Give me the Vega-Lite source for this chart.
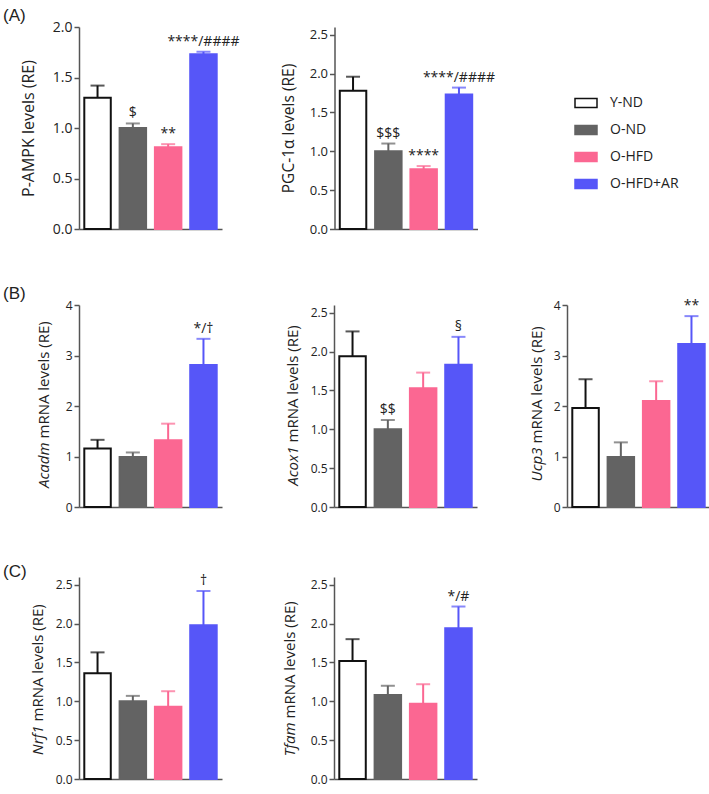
{
  "$schema": "https://vega.github.io/schema/vega-lite/v6.json",
  "padding": {"left": 3, "top": 7, "right": 3, "bottom": 5},
  "spacing": 49,
  "config": {
    "view": {"stroke": null},
    "font": "Open Sans",
    "axis": {"domainColor": "#555", "domainWidth": 1.5, "tickColor": "#555", "tickWidth": 1.5, "tickSize": 5, "labelColor": "#222", "titleColor": "#222", "grid": false, "labelFont": "Open Sans", "titleFont": "Open Sans", "titleFontWeight": "normal", "labelPadding": 2, "titleBaseline": "middle"},
    "title": {"font": "Liberation Sans", "fontWeight": "normal", "color": "#222", "fontSize": 17, "anchor": "start", "frame": "group", "baseline": "alphabetic", "offset": 1}
  },
  "datasets": {
    "d": [
      {"panel": "A1", "group": "Y-ND", "mean": 1.30, "upper": 1.42, "label": ""},
      {"panel": "A1", "group": "O-ND", "mean": 1.00, "upper": 1.045, "label": "$"},
      {"panel": "A1", "group": "O-HFD", "mean": 0.81, "upper": 0.84, "label": "**"},
      {"panel": "A1", "group": "O-HFD+AR", "mean": 1.73, "upper": 1.755, "label": "****/####"},
      {"panel": "A2", "group": "Y-ND", "mean": 1.78, "upper": 1.96, "label": ""},
      {"panel": "A2", "group": "O-ND", "mean": 1.00, "upper": 1.10, "label": "$$$"},
      {"panel": "A2", "group": "O-HFD", "mean": 0.77, "upper": 0.81, "label": "****"},
      {"panel": "A2", "group": "O-HFD+AR", "mean": 1.73, "upper": 1.82, "label": "****/####"},
      {"panel": "B1", "group": "Y-ND", "mean": 1.16, "upper": 1.33, "label": ""},
      {"panel": "B1", "group": "O-ND", "mean": 0.99, "upper": 1.08, "label": ""},
      {"panel": "B1", "group": "O-HFD", "mean": 1.32, "upper": 1.65, "label": ""},
      {"panel": "B1", "group": "O-HFD+AR", "mean": 2.81, "upper": 3.33, "label": "*/†"},
      {"panel": "B2", "group": "Y-ND", "mean": 1.94, "upper": 2.26, "label": ""},
      {"panel": "B2", "group": "O-ND", "mean": 1.00, "upper": 1.12, "label": "$$"},
      {"panel": "B2", "group": "O-HFD", "mean": 1.53, "upper": 1.73, "label": ""},
      {"panel": "B2", "group": "O-HFD+AR", "mean": 1.83, "upper": 2.19, "label": "§"},
      {"panel": "B3", "group": "Y-ND", "mean": 1.96, "upper": 2.53, "label": ""},
      {"panel": "B3", "group": "O-ND", "mean": 0.99, "upper": 1.28, "label": ""},
      {"panel": "B3", "group": "O-HFD", "mean": 2.10, "upper": 2.49, "label": ""},
      {"panel": "B3", "group": "O-HFD+AR", "mean": 3.23, "upper": 3.78, "label": "**"},
      {"panel": "C1", "group": "Y-ND", "mean": 1.36, "upper": 1.63, "label": ""},
      {"panel": "C1", "group": "O-ND", "mean": 1.00, "upper": 1.07, "label": ""},
      {"panel": "C1", "group": "O-HFD", "mean": 0.93, "upper": 1.13, "label": ""},
      {"panel": "C1", "group": "O-HFD+AR", "mean": 1.98, "upper": 2.42, "label": "†"},
      {"panel": "C2", "group": "Y-ND", "mean": 1.52, "upper": 1.80, "label": ""},
      {"panel": "C2", "group": "O-ND", "mean": 1.08, "upper": 1.20, "label": ""},
      {"panel": "C2", "group": "O-HFD", "mean": 0.97, "upper": 1.22, "label": ""},
      {"panel": "C2", "group": "O-HFD+AR", "mean": 1.94, "upper": 2.22, "label": "*/#"}
    ]
  },
  "vconcat": [
    {
      "spacing": 41.5,
      "hconcat": [
        {
          "width": 143, "height": 202,
          "title": {"text": "(A)", "dx": -76, "dy": 6},
          "data": {"name": "d"},
          "transform": [{"filter": "datum.panel === 'A1'"}],
          "encoding": {"x": {"field": "group", "type": "nominal", "sort": ["Y-ND", "O-ND", "O-HFD", "O-HFD+AR"], "scale": {"paddingInner": 0.25, "paddingOuter": 0.15}, "axis": {"title": null, "labels": false, "ticks": false}}},
          "resolve": {"axis": {"y": "independent"}},
          "layer": [
            {"mark": {"type": "bar", "strokeWidth": 2}, "encoding": {
              "y": {"field": "mean", "type": "quantitative", "scale": {"domain": [0, 2]}, "axis": {"orient": "left", "values": [0, 0.5, 1, 1.5, 2], "format": ".1f", "labelFontSize": 14, "title": "P-AMPK levels (RE)", "titleFontSize": 16, "titleX": -51}},
              "fill": {"field": "group", "type": "nominal", "scale": {"domain": ["Y-ND", "O-ND", "O-HFD", "O-HFD+AR"], "range": ["#ffffff", "#636363", "#fb6792", "#5656f8"]}, "legend": {"orient": "none", "legendX": 495, "legendY": 64, "title": null, "symbolType": "M-1,-0.42H1V0.42H-1Z", "symbolSize": 484, "symbolStrokeWidth": 1.5, "labelFontSize": 14, "labelFont": "Open Sans", "labelColor": "#222", "rowPadding": 7, "labelOffset": 12}},
              "stroke": {"field": "group", "type": "nominal", "scale": {"domain": ["Y-ND", "O-ND", "O-HFD", "O-HFD+AR"], "range": ["#111111", "#636363", "#fb6792", "#5656f8"]}, "legend": {"orient": "none", "legendX": 495, "legendY": 64, "title": null, "symbolType": "M-1,-0.42H1V0.42H-1Z", "symbolSize": 484, "symbolStrokeWidth": 1.5, "labelFontSize": 14, "labelFont": "Open Sans", "labelColor": "#222", "rowPadding": 7, "labelOffset": 12}}
            }},
            {"mark": {"type": "rule", "strokeWidth": 2}, "encoding": {"y": {"field": "mean", "type": "quantitative", "axis": null}, "y2": {"field": "upper"}, "color": {"field": "group", "type": "nominal", "scale": {"domain": ["Y-ND", "O-ND", "O-HFD", "O-HFD+AR"], "range": ["#111111", "#636363", "#fb6792", "#5656f8"]}, "legend": null}}},
            {"mark": {"type": "tick", "thickness": 2, "size": 14}, "encoding": {"y": {"field": "upper", "type": "quantitative", "axis": null}, "color": {"field": "group", "type": "nominal", "legend": null}}},
            {"mark": {"type": "text", "dy": -6, "baseline": "alphabetic", "fontSize": 14, "color": "#222"}, "encoding": {"y": {"field": "upper", "type": "quantitative", "axis": null}, "text": {"field": "label"}}}
          ]
        },
        {
          "width": 143, "height": 202,
          "data": {"name": "d"},
          "transform": [{"filter": "datum.panel === 'A2'"}],
          "encoding": {"x": {"field": "group", "type": "nominal", "sort": ["Y-ND", "O-ND", "O-HFD", "O-HFD+AR"], "scale": {"paddingInner": 0.25, "paddingOuter": 0.15}, "axis": {"title": null, "labels": false, "ticks": false}}},
          "resolve": {"axis": {"y": "independent"}},
          "layer": [
            {"mark": {"type": "bar", "strokeWidth": 2}, "encoding": {
              "y": {"field": "mean", "type": "quantitative", "scale": {"domain": [0, 2.5]}, "axis": {"orient": "left", "values": [0, 0.5, 1, 1.5, 2, 2.5], "format": ".1f", "labelFontSize": 13, "title": "PGC-1α levels (RE)", "titleFontSize": 15.5, "titleX": -46}},
              "fill": {"field": "group", "type": "nominal", "legend": null},
              "stroke": {"field": "group", "type": "nominal", "legend": null}
            }},
            {"mark": {"type": "rule", "strokeWidth": 2}, "encoding": {"y": {"field": "mean", "type": "quantitative", "axis": null}, "y2": {"field": "upper"}, "color": {"field": "group", "type": "nominal", "legend": null}}},
            {"mark": {"type": "tick", "thickness": 2, "size": 14}, "encoding": {"y": {"field": "upper", "type": "quantitative", "axis": null}, "color": {"field": "group", "type": "nominal", "legend": null}}},
            {"mark": {"type": "text", "dy": -6, "baseline": "alphabetic", "fontSize": 14, "color": "#222"}, "encoding": {"y": {"field": "upper", "type": "quantitative", "axis": null}, "text": {"field": "label"}}}
          ]
        }
      ]
    },
    {
      "spacing": 63,
      "hconcat": [
        {
          "width": 143, "height": 202,
          "title": {"text": "(B)", "dx": -76, "dy": 5},
          "data": {"name": "d"},
          "transform": [{"filter": "datum.panel === 'B1'"}],
          "encoding": {"x": {"field": "group", "type": "nominal", "sort": ["Y-ND", "O-ND", "O-HFD", "O-HFD+AR"], "scale": {"paddingInner": 0.25, "paddingOuter": 0.15}, "axis": {"title": null, "labels": false, "ticks": false}}},
          "resolve": {"axis": {"y": "independent"}},
          "layer": [
            {"mark": {"type": "bar", "strokeWidth": 2}, "encoding": {
              "y": {"field": "mean", "type": "quantitative", "scale": {"domain": [0, 4]}, "axis": {"orient": "left", "values": [0, 1, 2, 3, 4], "format": "d", "labelFontSize": 12, "title": "mRNA levels (RE)", "titleFontSize": 15, "titleX": -36, "titleY": 133, "titleAlign": "left"}},
              "fill": {"field": "group", "type": "nominal", "legend": null},
              "stroke": {"field": "group", "type": "nominal", "legend": null}
            }},
            {"mark": {"type": "rule", "strokeWidth": 2}, "encoding": {"y": {"field": "mean", "type": "quantitative", "axis": {"orient": "left", "labels": false, "ticks": false, "domain": false, "title": "Acadm", "titleFontStyle": "italic", "titleFontSize": 15, "titleX": -36, "titleY": 137, "titleAlign": "right"}}, "y2": {"field": "upper"}, "color": {"field": "group", "type": "nominal", "legend": null}}},
            {"mark": {"type": "tick", "thickness": 2, "size": 14}, "encoding": {"y": {"field": "upper", "type": "quantitative", "axis": null}, "color": {"field": "group", "type": "nominal", "legend": null}}},
            {"mark": {"type": "text", "dy": -6, "baseline": "alphabetic", "fontSize": 14, "color": "#222"}, "encoding": {"y": {"field": "upper", "type": "quantitative", "axis": null}, "text": {"field": "label"}}}
          ]
        },
        {
          "spacing": 52,
          "hconcat": [
            {
              "width": 143, "height": 202,
              "data": {"name": "d"},
              "transform": [{"filter": "datum.panel === 'B2'"}],
              "encoding": {"x": {"field": "group", "type": "nominal", "sort": ["Y-ND", "O-ND", "O-HFD", "O-HFD+AR"], "scale": {"paddingInner": 0.25, "paddingOuter": 0.15}, "axis": {"title": null, "labels": false, "ticks": false}}},
              "resolve": {"axis": {"y": "independent"}},
              "layer": [
                {"mark": {"type": "bar", "strokeWidth": 2}, "encoding": {
                  "y": {"field": "mean", "type": "quantitative", "scale": {"domain": [0, 2.5]}, "axis": {"orient": "left", "values": [0, 0.5, 1, 1.5, 2, 2.5], "format": ".1f", "labelFontSize": 12, "title": "mRNA levels (RE)", "titleFontSize": 15, "titleX": -42, "titleY": 137, "titleAlign": "left"}},
                  "fill": {"field": "group", "type": "nominal", "legend": null},
                  "stroke": {"field": "group", "type": "nominal", "legend": null}
                }},
                {"mark": {"type": "rule", "strokeWidth": 2}, "encoding": {"y": {"field": "mean", "type": "quantitative", "axis": {"orient": "left", "labels": false, "ticks": false, "domain": false, "title": "Acox1", "titleFontStyle": "italic", "titleFontSize": 15, "titleX": -42, "titleY": 141, "titleAlign": "right"}}, "y2": {"field": "upper"}, "color": {"field": "group", "type": "nominal", "legend": null}}},
                {"mark": {"type": "tick", "thickness": 2, "size": 14}, "encoding": {"y": {"field": "upper", "type": "quantitative", "axis": null}, "color": {"field": "group", "type": "nominal", "legend": null}}},
                {"mark": {"type": "text", "dy": -6, "baseline": "alphabetic", "fontSize": 14, "color": "#222"}, "encoding": {"y": {"field": "upper", "type": "quantitative", "axis": null}, "text": {"field": "label"}}}
              ]
            },
            {
              "width": 143, "height": 202,
              "data": {"name": "d"},
              "transform": [{"filter": "datum.panel === 'B3'"}],
              "encoding": {"x": {"field": "group", "type": "nominal", "sort": ["Y-ND", "O-ND", "O-HFD", "O-HFD+AR"], "scale": {"paddingInner": 0.25, "paddingOuter": 0.15}, "axis": {"title": null, "labels": false, "ticks": false}}},
              "resolve": {"axis": {"y": "independent"}},
              "layer": [
                {"mark": {"type": "bar", "strokeWidth": 2}, "encoding": {
                  "y": {"field": "mean", "type": "quantitative", "scale": {"domain": [0, 4]}, "axis": {"orient": "left", "values": [0, 1, 2, 3, 4], "format": "d", "labelFontSize": 12, "title": "mRNA levels (RE)", "titleFontSize": 15, "titleX": -31, "titleY": 138, "titleAlign": "left"}},
                  "fill": {"field": "group", "type": "nominal", "legend": null},
                  "stroke": {"field": "group", "type": "nominal", "legend": null}
                }},
                {"mark": {"type": "rule", "strokeWidth": 2}, "encoding": {"y": {"field": "mean", "type": "quantitative", "axis": {"orient": "left", "labels": false, "ticks": false, "domain": false, "title": "Ucp3", "titleFontStyle": "italic", "titleFontSize": 15, "titleX": -31, "titleY": 142, "titleAlign": "right"}}, "y2": {"field": "upper"}, "color": {"field": "group", "type": "nominal", "legend": null}}},
                {"mark": {"type": "tick", "thickness": 2, "size": 14}, "encoding": {"y": {"field": "upper", "type": "quantitative", "axis": null}, "color": {"field": "group", "type": "nominal", "legend": null}}},
                {"mark": {"type": "text", "dy": -6, "baseline": "alphabetic", "fontSize": 14, "color": "#222"}, "encoding": {"y": {"field": "upper", "type": "quantitative", "axis": null}, "text": {"field": "label"}}}
              ]
            }
          ]
        }
      ]
    },
    {
      "spacing": 60,
      "hconcat": [
        {
          "width": 143, "height": 202,
          "title": {"text": "(C)", "dx": -76, "dy": 8},
          "data": {"name": "d"},
          "transform": [{"filter": "datum.panel === 'C1'"}],
          "encoding": {"x": {"field": "group", "type": "nominal", "sort": ["Y-ND", "O-ND", "O-HFD", "O-HFD+AR"], "scale": {"paddingInner": 0.25, "paddingOuter": 0.15}, "axis": {"title": null, "labels": false, "ticks": false}}},
          "resolve": {"axis": {"y": "independent"}},
          "layer": [
            {"mark": {"type": "bar", "strokeWidth": 2}, "encoding": {
              "y": {"field": "mean", "type": "quantitative", "scale": {"domain": [0, 2.5]}, "axis": {"orient": "left", "values": [0, 0.5, 1, 1.5, 2, 2.5], "format": ".1f", "labelFontSize": 12, "title": "mRNA levels (RE)", "titleFontSize": 15, "titleX": -42, "titleY": 144, "titleAlign": "left"}},
              "fill": {"field": "group", "type": "nominal", "legend": null},
              "stroke": {"field": "group", "type": "nominal", "legend": null}
            }},
            {"mark": {"type": "rule", "strokeWidth": 2}, "encoding": {"y": {"field": "mean", "type": "quantitative", "axis": {"orient": "left", "labels": false, "ticks": false, "domain": false, "title": "Nrf1", "titleFontStyle": "italic", "titleFontSize": 15, "titleX": -42, "titleY": 148, "titleAlign": "right"}}, "y2": {"field": "upper"}, "color": {"field": "group", "type": "nominal", "legend": null}}},
            {"mark": {"type": "tick", "thickness": 2, "size": 14}, "encoding": {"y": {"field": "upper", "type": "quantitative", "axis": null}, "color": {"field": "group", "type": "nominal", "legend": null}}},
            {"mark": {"type": "text", "dy": -6, "baseline": "alphabetic", "fontSize": 14, "color": "#222"}, "encoding": {"y": {"field": "upper", "type": "quantitative", "axis": null}, "text": {"field": "label"}}}
          ]
        },
        {
          "width": 143, "height": 202,
          "data": {"name": "d"},
          "transform": [{"filter": "datum.panel === 'C2'"}],
          "encoding": {"x": {"field": "group", "type": "nominal", "sort": ["Y-ND", "O-ND", "O-HFD", "O-HFD+AR"], "scale": {"paddingInner": 0.25, "paddingOuter": 0.15}, "axis": {"title": null, "labels": false, "ticks": false}}},
          "resolve": {"axis": {"y": "independent"}},
          "layer": [
            {"mark": {"type": "bar", "strokeWidth": 2}, "encoding": {
              "y": {"field": "mean", "type": "quantitative", "scale": {"domain": [0, 2.5]}, "axis": {"orient": "left", "values": [0, 0.5, 1, 1.5, 2, 2.5], "format": ".1f", "labelFontSize": 12, "title": "mRNA levels (RE)", "titleFontSize": 15, "titleX": -45, "titleY": 141, "titleAlign": "left"}},
              "fill": {"field": "group", "type": "nominal", "legend": null},
              "stroke": {"field": "group", "type": "nominal", "legend": null}
            }},
            {"mark": {"type": "rule", "strokeWidth": 2}, "encoding": {"y": {"field": "mean", "type": "quantitative", "axis": {"orient": "left", "labels": false, "ticks": false, "domain": false, "title": "Tfam", "titleFontStyle": "italic", "titleFontSize": 15, "titleX": -45, "titleY": 145, "titleAlign": "right"}}, "y2": {"field": "upper"}, "color": {"field": "group", "type": "nominal", "legend": null}}},
            {"mark": {"type": "tick", "thickness": 2, "size": 14}, "encoding": {"y": {"field": "upper", "type": "quantitative", "axis": null}, "color": {"field": "group", "type": "nominal", "legend": null}}},
            {"mark": {"type": "text", "dy": -6, "baseline": "alphabetic", "fontSize": 14, "color": "#222"}, "encoding": {"y": {"field": "upper", "type": "quantitative", "axis": null}, "text": {"field": "label"}}}
          ]
        }
      ]
    }
  ]
}
